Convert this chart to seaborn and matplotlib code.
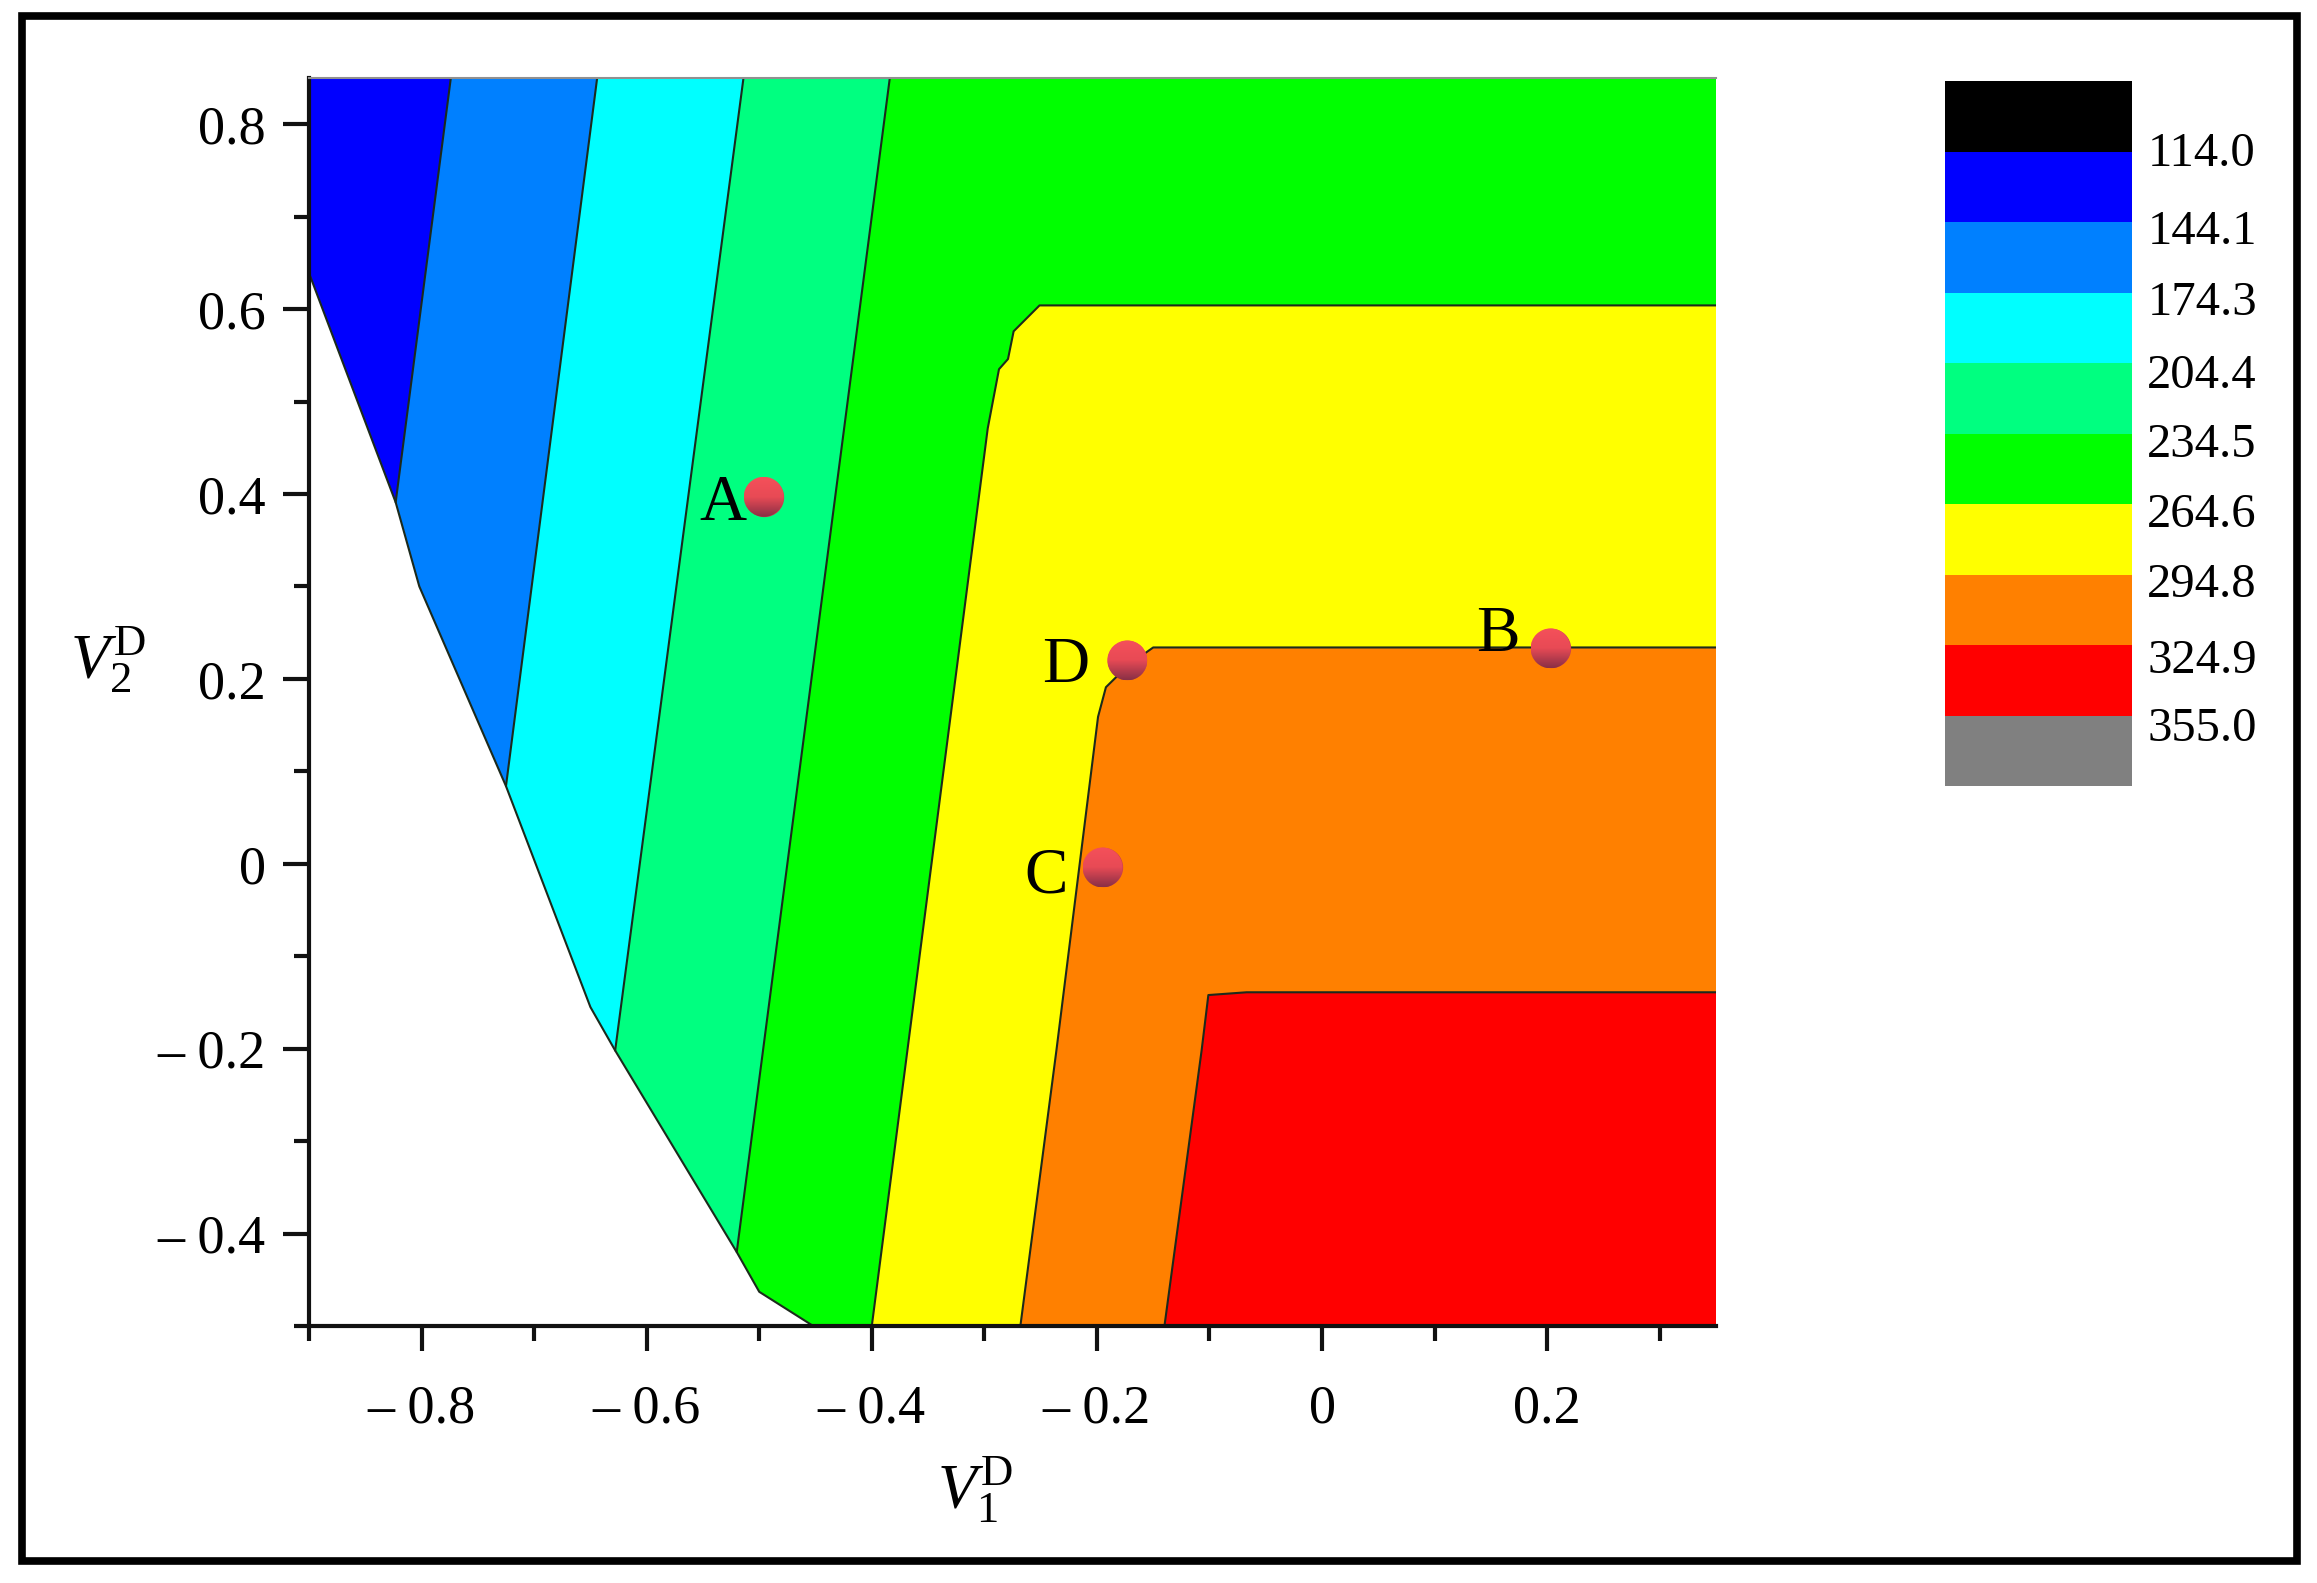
#!/usr/bin/env python
import matplotlib
matplotlib.use("Agg")
import matplotlib.pyplot as plt
import numpy as np
import seaborn as sns
from matplotlib.colors import LinearSegmentedColormap, ListedColormap
from matplotlib.patches import Ellipse, Rectangle
from matplotlib.ticker import FixedFormatter, FixedLocator, MultipleLocator

# band colours, low to high, same order as the legend
band_colors = ["#000000", "#0000ff", "#0080ff", "#00ffff", "#00ff80",
               "#00ff00", "#ffff00", "#ff8000", "#ff0000", "#808080"]
level_labels = ["114.0", "144.1", "174.3", "204.4", "234.5",
                "264.6", "294.8", "324.9", "355.0"]
# labels are not quite on the band edges in the original
level_label_pos = [0.97, 2.07, 3.08, 4.12, 5.09, 6.08, 7.08, 8.16, 9.12]

# contour lines
line1_x = [-0.774, -0.823]
line1_y = [0.85, 0.391]
line2_x = [-0.644, -0.725]
line2_y = [0.85, 0.084]
line3_x = [-0.514, -0.628]
line3_y = [0.85, -0.202]
line4_x = [-0.384, -0.520]
line4_y = [0.85, -0.420]
line5_x = [0.35, -0.251, -0.274, -0.279, -0.287, -0.297, -0.400]
line5_y = [0.604, 0.604, 0.576, 0.546, 0.535, 0.471, -0.500]
line6_x = [0.35, -0.150, -0.172, -0.192, -0.199, -0.236, -0.268]
line6_y = [0.234, 0.234, 0.215, 0.191, 0.159, -0.202, -0.500]
line7_x = [0.35, -0.067, -0.101, -0.107, -0.140]
line7_y = [-0.139, -0.139, -0.142, -0.202, -0.500]

# edge of the white (undefined) region
edge_x = [-0.900, -0.823, -0.802, -0.725, -0.650, -0.628, -0.520, -0.500, -0.452]
edge_y = [0.639, 0.391, 0.300, 0.084, -0.155, -0.202, -0.420, -0.463, -0.500]

# operating points
point_names = ["A", "B", "C", "D"]
point_x = [-0.496, 0.203, -0.195, -0.173]
point_y = [0.397, 0.233, -0.004, 0.220]
name_x = [-0.532, 0.156, -0.245, -0.228]
name_y = [0.389, 0.247, -0.014, 0.214]

x_ticks = [-0.8, -0.6, -0.4, -0.2, 0, 0.2]
x_tick_labels = ["\u2013 0.8", "\u2013 0.6", "\u2013 0.4", "\u2013 0.2", "0", "0.2"]
y_ticks = [-0.4, -0.2, 0, 0.2, 0.4, 0.6, 0.8]
y_tick_labels = ["\u2013 0.4", "\u2013 0.2", "0", "0.2", "0.4", "0.6", "0.8"]

X_MIN, X_MAX = -0.9, 0.35
Y_MIN, Y_MAX = -0.5, 0.85
W, H = 2317, 1583


def px_axes(fig, left, top, right, bottom):
    return fig.add_axes([left / W, 1 - bottom / H, (right - left) / W, (bottom - top) / H])


sns.set_style("ticks")
plt.rcParams["font.family"] = ["Liberation Serif", "DejaVu Sans"]
plt.rcParams["mathtext.fontset"] = "custom"
plt.rcParams["mathtext.rm"] = "Liberation Serif"
plt.rcParams["mathtext.it"] = "Liberation Serif:italic"
plt.rcParams["text.color"] = "black"
plt.rcParams["axes.labelcolor"] = "black"
plt.rcParams["xtick.labelcolor"] = "black"
plt.rcParams["ytick.labelcolor"] = "black"

fig = plt.figure(figsize=(W / 100, H / 100), dpi=100, facecolor="white")
ax = px_axes(fig, 309, 78, 1716, 1326)

# paint from low to high, each band covers everything on its right
ax.fill([X_MIN, X_MAX, X_MAX, X_MIN], [Y_MIN, Y_MIN, Y_MAX, Y_MAX], color=band_colors[1], lw=0)
top_lines = [(line1_x, line1_y), (line2_x, line2_y), (line3_x, line3_y), (line4_x, line4_y)]
side_lines = [(line5_x, line5_y), (line6_x, line6_y), (line7_x, line7_y)]
for i, (lx, ly) in enumerate(top_lines):
    ax.fill(lx + [X_MIN, X_MAX, X_MAX], ly + [Y_MIN, Y_MIN, Y_MAX], color=band_colors[i + 2], lw=0)
# the green band sits right of line 4, yellow and up are cut by the side lines
for i, (lx, ly) in enumerate(side_lines):
    ax.fill(lx + [X_MAX], ly + [Y_MIN], color=band_colors[i + 6], lw=0)
ax.fill(edge_x + [X_MIN], edge_y + [Y_MIN], color="white", lw=0)

for lx, ly in top_lines + side_lines + [(edge_x, edge_y)]:
    sns.lineplot(x=lx, y=ly, sort=False, estimator=None, color="#1c2a1c", lw=1.5, ax=ax)

# points: flat marker underneath, shaded disc on top
sns.scatterplot(x=point_x, y=point_y, s=800, color="#c8404e", linewidth=0, ax=ax, zorder=4)
shade = LinearSegmentedColormap.from_list("shade", ["#f5505a", "#e84a55", "#8a3046"])
grad = np.linspace(0, 1, 64).reshape(-1, 1)
rx = 20 / (1407 / (X_MAX - X_MIN))
ry = 20 / (1248 / (Y_MAX - Y_MIN))
for px, py in zip(point_x, point_y):
    disc = Ellipse((px, py), 2 * rx, 2 * ry, transform=ax.transData, fc="none", ec="none")
    ax.add_patch(disc)
    im = ax.imshow(grad, extent=(px - rx, px + rx, py - ry, py + ry), cmap=shade,
                   aspect="auto", origin="upper", zorder=5)
    im.set_clip_path(disc)
for name, nx, ny in zip(point_names, name_x, name_y):
    ax.text(nx, ny, name, fontsize=47, ha="center", va="center", color="black", zorder=6)

ax.set_xlim(X_MIN, X_MAX)
ax.set_ylim(Y_MIN, Y_MAX)
ax.xaxis.set_major_locator(FixedLocator(x_ticks))
ax.xaxis.set_major_formatter(FixedFormatter(x_tick_labels))
ax.xaxis.set_minor_locator(MultipleLocator(0.1))
ax.yaxis.set_major_locator(FixedLocator(y_ticks))
ax.yaxis.set_major_formatter(FixedFormatter(y_tick_labels))
ax.yaxis.set_minor_locator(MultipleLocator(0.1))
ax.tick_params(axis="x", which="major", length=18, width=3, pad=24, labelsize=39, color="#111111")
ax.tick_params(axis="y", which="major", length=19, width=3, pad=12, labelsize=39, color="#111111")
ax.tick_params(axis="both", which="minor", length=11, width=3, color="#111111")

for side in ["left", "bottom"]:
    ax.spines[side].set_linewidth(3)
    ax.spines[side].set_color("#111111")
ax.spines["top"].set_linewidth(1.5)
ax.spines["top"].set_color("#909090")
ax.spines["right"].set_visible(False)

ax.set_xlabel(r"$V_1^{\mathrm{D}}$", fontsize=46)
ax.set_ylabel(r"$V_2^{\mathrm{D}}$", fontsize=46, rotation=0)
ax.xaxis.set_label_coords((975 - 309) / 1407, -(1490 - 1326) / 1248, transform=ax.transAxes)
ax.yaxis.set_label_coords(-(309 - 108) / 1407, (1326 - 660) / 1248, transform=ax.transAxes)
ax.xaxis.label.set_va("center")
ax.yaxis.label.set_va("center")
ax.yaxis.label.set_ha("center")

# legend strip
leg = px_axes(fig, 1945, 81, 2132, 786)
sns.heatmap(np.arange(len(band_colors)).reshape(-1, 1), cmap=ListedColormap(band_colors),
            cbar=False, xticklabels=False, ax=leg)
leg.yaxis.tick_right()
leg.set_yticks(level_label_pos)
leg.set_yticklabels(level_labels, rotation=0, fontsize=35, color="black")
leg.tick_params(axis="y", length=0, pad=11)
leg.set_ylabel("")

# outer frame of the figure
fig.patches.append(Rectangle((22 / W, 1 - 1561 / H), (2296.5 - 22) / W, (1561 - 16) / H,
                             transform=fig.transFigure, fill=False, ec="black", lw=5.5))

fig.savefig("out.png", dpi=100, facecolor="white")
plt.close(fig)
